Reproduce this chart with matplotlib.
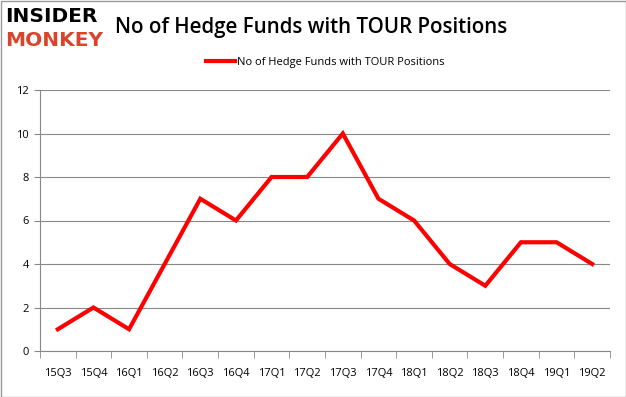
import matplotlib.pyplot as plt
from matplotlib.patches import Rectangle

quarters = ['15Q3', '15Q4', '16Q1', '16Q2', '16Q3', '16Q4', '17Q1', '17Q2',
            '17Q3', '17Q4', '18Q1', '18Q2', '18Q3', '18Q4', '19Q1', '19Q2']
funds = [1, 2, 1, 4, 7, 6, 8, 8, 10, 7, 6, 4, 3, 5, 5, 4]
yticks = [0, 2, 4, 6, 8, 10, 12]
series_name = 'No of Hedge Funds with TOUR Positions'

plt.rcParams['font.family'] = ['Open Sans', 'DejaVu Sans']

fig = plt.figure(figsize=(6.26, 3.97), dpi=100)
ax = fig.add_axes([40 / 626, 46 / 397, 570 / 626, 261 / 397])

x = list(range(len(quarters)))
ax.plot(x, funds, color='#ff0000', lw=3, solid_joinstyle='miter', label=series_name)

ax.set_xlim(-0.5, len(quarters) - 0.5)
ax.set_ylim(0, 12)
ax.set_yticks(yticks)
ax.set_xticks(x)
ax.set_xticklabels(quarters)
ax.set_xticks([i - 0.5 for i in range(len(quarters) + 1)], minor=True)
ax.tick_params(axis='x', which='major', length=0, pad=12, labelsize=8)
ax.tick_params(axis='x', which='minor', length=5, color='#888888')
ax.tick_params(axis='y', length=4, color='#888888', labelsize=8, pad=4)
ax.grid(axis='y', color='#888888', lw=0.8)
ax.set_axisbelow(True)
for side in ['top', 'right']:
    ax.spines[side].set_visible(False)
ax.spines['left'].set_color('#888888')
ax.spines['bottom'].set_color('#888888')

ax.legend(loc='center', bbox_to_anchor=(0.5, 1.107), frameon=False,
          fontsize=8, handlelength=2.6, handletextpad=0.2)

fig.text(115 / 626, 1 - 27 / 397, series_name, fontsize=14.8, fontweight='semibold',
         va='center', ha='left')
fig.text(5 / 626, 1 - 17 / 397, 'INSIDER', fontsize=14.5, fontweight='bold',
         va='center', ha='left', color='black', family='DejaVu Sans')
fig.text(5 / 626, 1 - 41 / 397, 'MONKEY', fontsize=14.5, fontweight='bold',
         va='center', ha='left', color='#d9442a', family='DejaVu Sans')

fig.patches.append(Rectangle((0.5 / 626, 0.5 / 397), 625 / 626, 396 / 397,
                             transform=fig.transFigure, fill=False,
                             edgecolor='#999999', lw=1))

fig.savefig('out.png', dpi=100)
